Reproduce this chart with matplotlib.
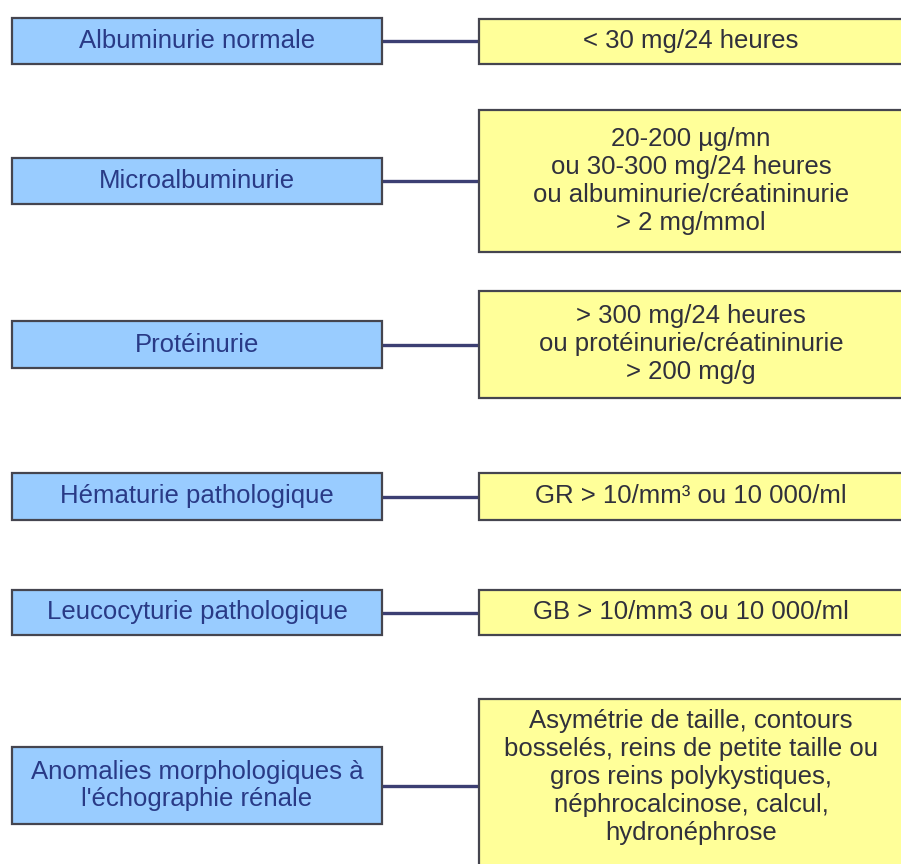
import matplotlib.pyplot as plt
from matplotlib.patches import Rectangle

plt.rcParams["font.family"] = ["Liberation Sans", "DejaVu Sans"]

# Left-hand categories and right-hand criteria
categories = [
    "Albuminurie normale",
    "Microalbuminurie",
    "Protéinurie",
    "Hématurie pathologique",
    "Leucocyturie pathologique",
    "Anomalies morphologiques à\nl'échographie rénale",
]
criteria = [
    "< 30 mg/24 heures",
    "20-200 µg/mn\nou 30-300 mg/24 heures\nou albuminurie/créatininurie\n> 2 mg/mmol",
    "> 300 mg/24 heures\nou protéinurie/créatininurie\n> 200 mg/g",
    "GR > 10/mm³ ou 10 000/ml",
    "GB > 10/mm3 ou 10 000/ml",
    "Asymétrie de taille, contours\nbosselés, reins de petite taille ou\ngros reins polykystiques,\nnéphrocalcinose, calcul,\nhydronéphrose",
]

# Layout (pixels, top-left origin)
W, H = 901, 864
left_x = (12, 382)
right_x = (479, 910)
left_y = [(18, 64), (158, 204), (321, 368), (473, 520), (590, 635), (747, 824)]
right_y = [(19, 64), (110, 252), (291, 398), (473, 520), (590, 635), (699, 880)]
right_text_y = [41, 181, 344, 496, 612, 777]

BLUE = "#99ccff"
YELLOW = "#ffff99"
EDGE = "#45454f"
LINE = "#3c3f73"
FS = 18.5

fig = plt.figure(figsize=(W / 100, H / 100), dpi=100)
ax = fig.add_axes([0, 0, 1, 1])
ax.set_xlim(0, W)
ax.set_ylim(H, 0)
ax.axis("off")

for i in range(len(categories)):
    ly0, ly1 = left_y[i]
    ry0, ry1 = right_y[i]
    yc = (ly0 + ly1) / 2
    ax.plot([left_x[1], right_x[0]], [yc, yc], color=LINE, lw=2.4,
            solid_capstyle="butt", zorder=1)
    ax.add_patch(Rectangle((left_x[0], ly0), left_x[1] - left_x[0], ly1 - ly0,
                           facecolor=BLUE, edgecolor=EDGE, lw=1.6, zorder=2))
    ax.add_patch(Rectangle((right_x[0], ry0), right_x[1] - right_x[0], ry1 - ry0,
                           facecolor=YELLOW, edgecolor=EDGE, lw=1.6, zorder=2))
    ax.text((left_x[0] + left_x[1]) / 2, yc, categories[i], ha="center",
            va="center", fontsize=FS, color="#293a86", linespacing=1.2, zorder=3)
    ax.text(691, right_text_y[i], criteria[i], ha="center", va="center",
            fontsize=FS, color="#30303c", linespacing=1.2, zorder=3)

fig.savefig("out.png", dpi=100)
